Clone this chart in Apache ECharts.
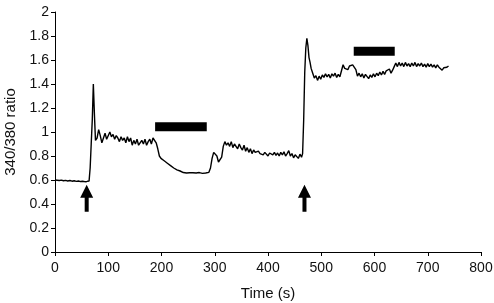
<!DOCTYPE html>
<html>
<head>
<meta charset="utf-8">
<script src="https://cdn.jsdelivr.net/npm/echarts@6/dist/echarts.min.js"></script>
<style>
html, body { margin: 0; padding: 0; background: #fff; }
#trace { width: 494px; height: 303px; }
</style>
</head>
<body>
<div id="trace"></div>
<script>
// fura-2 340/380 ratio trace, one line per segment
var times = [
    0,4,8,12,16,20,24,28,32,36,40,44,48,52,56,60,
    64,66,68,70,72,74,76,
    79,82,85,88,91,94,97,100,103,106,109,112,115,118,121,124,127,130,133,136,139,142,145,148,151,154,157,160,163,166,169,172,175,178,181,184,187,190,
    193,196,199,202,205,208,211,214,217,220,223,226,229,232,235,238,241,244,247,250,253,256,259,262,265,268,271,274,277,280,283,286,289,
    292,295,298,301,304,307,310,313,316,319,322,325,328,331,334,337,340,343,346,349,352,355,358,361,364,367,370,373,376,379,382,385,388,391,394,397,400,403,406,409,412,415,418,421,424,427,430,433,436,439,442,445,448,451,454,457,460,463,
    465,467,469,471,473,475,477,479,481,
    484,487,490,493,496,499,502,505,508,511,514,517,520,523,526,529,532,535,538,541,544,547,550,553,556,559,562,565,568,571,574,577,580,583,586,589,592,595,598,601,604,607,610,613,616,619,622,625,628,631,634,637,640,643,646,649,652,655,658,661,664,667,670,673,676,679,682,685,688,691,694,697,700,703,706,709,712,715,718,721,724,727,730,733,736,739
];
var ratios = [
    0.600,0.598,0.596,0.599,0.594,0.597,0.592,0.596,0.590,0.594,0.589,0.592,0.587,0.590,0.586,0.588,
    0.592,0.70,0.90,1.10,1.40,1.15,0.93,
    0.95,1.02,0.97,0.91,0.95,0.99,0.94,0.93,1.00,0.96,0.98,0.94,0.97,0.95,0.92,0.96,0.93,0.95,0.91,0.96,0.92,0.95,0.89,0.93,0.90,0.94,0.89,0.88,0.93,0.90,0.94,0.89,0.92,0.94,0.90,0.95,0.94,0.91,
    0.86,0.80,0.78,0.77,0.76,0.75,0.74,0.73,0.72,0.71,0.70,0.695,0.685,0.68,0.675,0.67,0.662,0.668,0.658,0.667,0.66,0.672,0.661,0.669,0.658,0.673,0.662,0.67,0.655,0.666,0.658,0.652,0.664,
    0.70,0.78,0.83,0.84,0.80,0.75,0.74,0.79,0.88,0.92,0.89,0.91,0.88,0.92,0.87,0.90,0.91,0.86,0.90,0.87,0.85,0.89,0.84,0.87,0.83,0.86,0.82,0.85,0.83,0.815,0.84,0.82,0.835,0.81,0.83,0.815,0.80,0.825,0.83,0.81,0.83,0.805,0.825,0.80,0.83,0.81,0.835,0.80,0.82,0.845,0.80,0.82,0.785,0.81,0.80,0.78,0.815,0.79,
    0.82,1.10,1.50,1.70,1.78,1.72,1.62,1.58,1.53,
    1.49,1.45,1.47,1.43,1.465,1.44,1.475,1.455,1.485,1.46,1.48,1.45,1.485,1.465,1.49,1.455,1.48,1.46,1.51,1.56,1.53,1.545,1.52,1.55,1.535,1.56,1.57,1.52,1.465,1.49,1.46,1.485,1.45,1.48,1.465,1.445,1.475,1.455,1.485,1.46,1.49,1.47,1.50,1.475,1.505,1.48,1.51,1.495,1.525,1.49,1.515,1.545,1.575,1.545,1.58,1.55,1.575,1.545,1.58,1.55,1.57,1.545,1.575,1.55,1.58,1.545,1.57,1.55,1.575,1.545,1.565,1.54,1.57,1.545,1.565,1.54,1.56,1.535,1.56,1.54,1.555,1.515,1.535,1.545,1.54,1.55
];

// application periods: [start, end, level]
var bars = [[188, 285, 1.043], [561, 638, 1.673]];
// stimulus arrows: [time, ratio at arrow middle]
var arrows = [[59.5, 0.447], [468.5, 0.447]];

var traceData = times.map(function (t, i) { return [t, ratios[i]]; });

var barSeries = bars.map(function (b) {
    return {
        type: 'line',
        data: [[b[0], b[2]], [b[1], b[2]]],
        symbol: 'none',
        silent: true,
        lineStyle: { color: '#000', width: 9, cap: 'butt' },
        z: 3
    };
});

var chart = echarts.init(document.getElementById('trace'));

var font = 'Liberation Sans, Arial, sans-serif';

chart.setOption({
    animation: false,
    grid: { left: 55, right: 13, top: 12, bottom: 51, outerBoundsMode: 'none' },
    xAxis: {
        type: 'value',
        min: 0,
        max: 800,
        interval: 100,
        name: 'Time (s)',
        nameLocation: 'middle',
        nameGap: 34,
        nameTextStyle: { color: '#111', fontSize: 15, fontFamily: font },
        axisLine: { lineStyle: { color: '#000', width: 1 } },
        axisTick: { show: true, length: 4, lineStyle: { color: '#000' } },
        axisLabel: { color: '#111', fontSize: 14, fontFamily: font, margin: 9 },
        splitLine: { show: false }
    },
    yAxis: {
        type: 'value',
        min: 0,
        max: 2,
        interval: 0.2,
        name: '340/380 ratio',
        nameLocation: 'middle',
        nameGap: 29,
        nameTextStyle: { color: '#111', fontSize: 15, fontFamily: font },
        axisLine: { show: true, lineStyle: { color: '#000', width: 1 } },
        axisTick: { show: true, length: 4, lineStyle: { color: '#000' } },
        axisLabel: { color: '#111', fontSize: 14, fontFamily: font, margin: 6 },
        splitLine: { show: false }
    },
    series: [
        {
            type: 'line',
            data: traceData,
            symbol: 'none',
            lineStyle: { color: '#000', width: 1.4 },
            z: 4
        },
        {
            type: 'scatter',
            data: arrows,
            symbol: 'path://M6.5,0 L13,13 L8.5,13 L8.5,27 L4.5,27 L4.5,13 L0,13 Z',
            symbolSize: [13, 27],
            itemStyle: { color: '#000', opacity: 1 },
            silent: true,
            z: 5
        }
    ].concat(barSeries)
});
</script>
</body>
</html>
